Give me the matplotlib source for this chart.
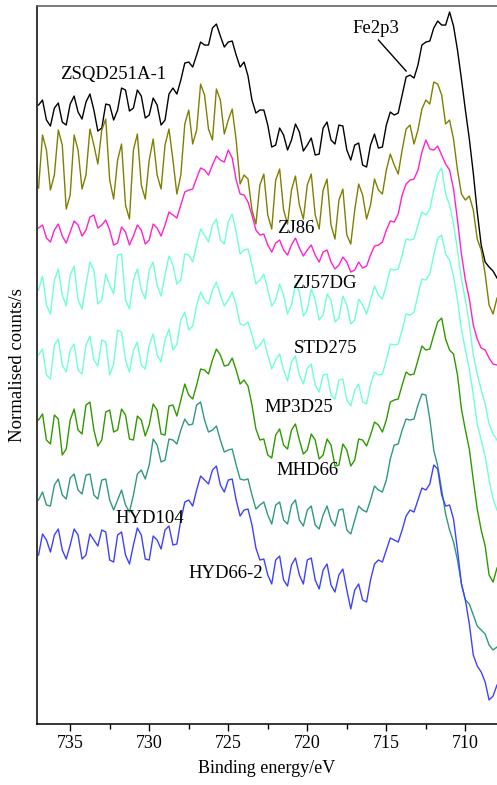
import matplotlib
matplotlib.use('Agg')
import matplotlib.pyplot as plt
from matplotlib.ticker import MultipleLocator
import numpy as np

# Binding energy grid (eV): readings every 0.5 eV from 737 to 708,
# plus the readings taken half way between them (736.75, 736.25, ...)
energy = np.arange(737.0, 707.9, -0.5)
energy_mid = energy[:-1] - 0.25

# Normalised counts (stacked, arbitrary units)
zsqd251a_1 = [619, 604, 616, 602, 620, 612, 622, 614, 596, 619,
              614, 634, 616, 628, 609, 619, 604, 636, 644, 662,
              669, 679, 696, 688, 682, 669, 662, 624, 614, 599,
              579, 589, 584, 592, 579, 569, 596, 584, 599, 574,
              579, 559, 579, 576, 599, 609, 629, 649, 659, 682,
              696, 699, 712, 674, 614, 551, 479, 457, 446]
zsqd251a_1_mid = [624, 598, 621, 599, 628, 605, 630, 593, 620, 604,
                  636, 613, 634, 606, 626, 599, 630, 630, 661, 657,
                  682, 679, 700, 677, 683, 657, 648, 611, 614, 577,
                  596, 574, 600, 573, 586, 570, 602, 580, 598, 564,
                  581, 557, 590, 577, 612, 611, 647, 646, 679, 683,
                  703, 699, 698, 645, 585, 512, 462, 453]

olive = [536, 574, 549, 579, 529, 574, 549, 579, 594, 544,
         564, 519, 574, 539, 564, 549, 579, 564, 549, 614,
         594, 629, 584, 624, 604, 584, 549, 514, 539, 509,
         544, 514, 534, 519, 539, 509, 534, 499, 524, 489,
         514, 529, 519, 534, 554, 559, 574, 599, 594, 624,
         642, 629, 604, 554, 524, 514, 474, 419, 426]
olive_mid = [589, 534, 594, 515, 589, 535, 595, 560, 605, 525,
             580, 505, 590, 525, 585, 535, 595, 530, 600, 580,
             640, 595, 635, 590, 615, 540, 545, 500, 550, 495,
             555, 500, 548, 505, 550, 495, 545, 485, 535, 480,
             540, 505, 545, 530, 570, 550, 595, 580, 615, 620,
             640, 600, 585, 530, 528, 485, 450, 410]

zj86 = [496, 486, 494, 488, 492, 499, 494, 509, 499, 494,
        481, 492, 488, 494, 484, 496, 499, 509, 519, 534,
        546, 554, 559, 564, 574, 544, 529, 509, 489, 479,
        481, 474, 479, 476, 474, 469, 472, 462, 459, 462,
        454, 456, 469, 479, 494, 502, 529, 544, 554, 584,
        574, 569, 554, 504, 444, 399, 376, 366, 359]
zj86_mid = [499, 482, 500, 481, 503, 488, 507, 496, 504, 479,
            497, 479, 499, 480, 500, 488, 512, 506, 532, 535,
            556, 549, 568, 562, 566, 530, 522, 494, 490, 472,
            484, 469, 486, 468, 479, 462, 474, 455, 467, 452,
            462, 458, 478, 482, 503, 510, 540, 545, 572, 575,
            578, 560, 535, 470, 425, 385, 374, 360]

zj57dg = [434, 419, 444, 429, 449, 424, 439, 454, 424, 439,
          469, 424, 444, 434, 454, 439, 449, 459, 444, 469,
          479, 489, 499, 484, 502, 492, 474, 459, 444, 434,
          424, 429, 419, 432, 414, 424, 409, 424, 406, 419,
          404, 419, 424, 429, 439, 454, 469, 484, 499, 509,
          534, 556, 519, 474, 424, 369, 334, 300, 284]
zj57dg_mid = [448, 410, 455, 418, 458, 415, 462, 420, 450, 430,
              470, 415, 455, 425, 462, 428, 468, 440, 470, 462,
              495, 482, 505, 480, 510, 470, 475, 440, 450, 418,
              440, 410, 440, 408, 435, 404, 430, 402, 428, 400,
              425, 410, 438, 425, 455, 455, 485, 485, 512, 515,
              550, 530, 500, 445, 400, 350, 320, 290]

std275 = [369, 349, 379, 359, 374, 354, 379, 364, 384, 349,
          394, 364, 374, 359, 379, 369, 384, 374, 404, 394,
          419, 424, 434, 429, 424, 419, 399, 389, 379, 369,
          364, 354, 362, 349, 356, 339, 349, 329, 344, 324,
          334, 322, 339, 349, 364, 379, 394, 409, 429, 444,
          469, 489, 464, 424, 374, 329, 284, 244, 214]
std275_mid = [375, 345, 385, 352, 380, 350, 388, 358, 382, 360,
              392, 352, 382, 355, 390, 362, 395, 380, 412, 398,
              432, 420, 442, 418, 432, 400, 402, 375, 385, 355,
              370, 343, 368, 340, 360, 332, 350, 325, 345, 318,
              340, 320, 352, 350, 380, 380, 410, 412, 445, 450,
              486, 470, 448, 395, 355, 300, 268, 225]

mp3d25 = [304, 284, 309, 269, 304, 294, 319, 294, 284, 314,
          294, 309, 284, 304, 299, 314, 289, 319, 324, 329,
          339, 354, 364, 369, 359, 354, 344, 319, 284, 269,
          289, 279, 294, 284, 274, 284, 269, 279, 259, 274,
          264, 284, 289, 299, 304, 324, 339, 349, 364, 374,
          389, 406, 374, 349, 294, 244, 194, 149, 156]
mp3d25_mid = [310, 280, 305, 275, 315, 290, 322, 278, 312, 292,
              315, 285, 308, 288, 320, 290, 318, 308, 340, 325,
              355, 350, 375, 358, 366, 340, 338, 295, 285, 266,
              295, 275, 300, 270, 290, 265, 285, 258, 280, 258,
              285, 278, 302, 292, 322, 325, 352, 350, 378, 375,
              402, 385, 370, 315, 275, 215, 178, 142]

mhd66 = [224, 219, 239, 229, 246, 234, 249, 229, 244, 224,
         224, 219, 229, 254, 259, 279, 264, 284, 294, 299,
         319, 304, 294, 284, 274, 259, 244, 229, 219, 209,
         219, 204, 219, 204, 214, 199, 209, 204, 214, 194,
         204, 214, 224, 234, 244, 279, 294, 304, 319, 329,
         274, 234, 194, 164, 124, 109, 94, 79, 77]
mhd66_mid = [232, 218, 245, 225, 250, 230, 250, 225, 245, 214,
             234, 212, 250, 245, 285, 262, 285, 280, 305, 300,
             322, 292, 298, 272, 275, 245, 245, 215, 222, 200,
             222, 200, 224, 198, 218, 195, 218, 198, 215, 190,
             218, 212, 238, 232, 265, 280, 305, 305, 330, 305,
             258, 210, 182, 140, 120, 98, 90, 74]

hyd66_2 = [169, 184, 189, 174, 179, 189, 169, 184, 194, 164,
           189, 169, 179, 189, 164, 184, 194, 179, 204, 224,
           234, 244, 254, 239, 244, 224, 214, 199, 164, 149,
           164, 144, 159, 149, 164, 144, 154, 139, 149, 134,
           134, 124, 144, 164, 174, 184, 194, 214, 224, 234,
           259, 229, 219, 174, 124, 69, 52, 24, 39]
hyd66_2_mid = [190, 172, 195, 165, 195, 165, 190, 178, 192, 162,
               192, 160, 196, 165, 188, 175, 198, 180, 222, 218,
               248, 240, 258, 232, 245, 208, 215, 176, 165, 140,
               168, 138, 166, 140, 166, 135, 160, 132, 155, 115,
               140, 122, 160, 162, 186, 182, 208, 212, 236, 240,
               255, 218, 205, 140, 100, 58, 42, 28]

series = [(zsqd251a_1, zsqd251a_1_mid, 'black'),
          (olive, olive_mid, '#7f8000'),
          (zj86, zj86_mid, '#ff22cc'),
          (zj57dg, zj57dg_mid, '#6fffd6'),
          (std275, std275_mid, '#6fffd6'),
          (mp3d25, mp3d25_mid, '#2f9900'),
          (mhd66, mhd66_mid, '#2f9980'),
          (hyd66_2, hyd66_2_mid, '#4040ff')]

# labels: (text, energy, height)
labels = [('ZSQD251A-1', 732.28, 645),
          ('ZJ86', 720.76, 491),
          ('ZJ57DG', 718.92, 436),
          ('STD275', 718.86, 371),
          ('MP3D25', 720.51, 312),
          ('MHD66', 720.0, 249),
          ('HYD104', 729.94, 201),
          ('HYD66-2', 725.13, 146)]

matplotlib.rc('font', family='Liberation Serif', size=13)

fig = plt.figure(figsize=(4.97, 7.85), dpi=100)
ax = fig.add_axes([0.0744, 0.0777, 0.9256, 0.9146])

# merge the two sets of readings into one curve per sample
x = np.empty(len(energy) + len(energy_mid))
x[0::2] = energy
x[1::2] = energy_mid
for main, mid, c in series:
    y = np.empty(len(x))
    y[0::2] = main
    y[1::2] = mid
    ax.plot(x, y, color=c, lw=1.0)

for txt, ex, ey in labels:
    ax.text(ex, ey, txt, ha='center', va='baseline', fontsize=13.5)

# Fe2p3 marker
ax.text(715.63, 691, 'Fe2p3', ha='center', va='baseline', fontsize=13.5)
ax.plot([715.5, 713.75], [684, 653], color='black', lw=1.0)

ax.set_xlim(737.1, 708.0)
ax.set_ylim(0, 718)
ax.xaxis.set_major_locator(MultipleLocator(5))
ax.xaxis.set_minor_locator(MultipleLocator(2.5))
ax.tick_params(axis='x', which='major', direction='out', length=5, width=1, labelsize=13, pad=3)
ax.tick_params(axis='x', which='minor', direction='out', length=3.5, width=1)
ax.set_yticks([])
ax.spines['right'].set_visible(False)
ax.spines['top'].set_color('#555555')
for s in ['left', 'bottom', 'top']:
    ax.spines[s].set_linewidth(1.1)

ax.set_xlabel('Binding energy/eV', fontsize=13, labelpad=6)
ax.set_ylabel('Normalised counts/s', fontsize=13.5, labelpad=8)

fig.savefig('out.png', dpi=100)
